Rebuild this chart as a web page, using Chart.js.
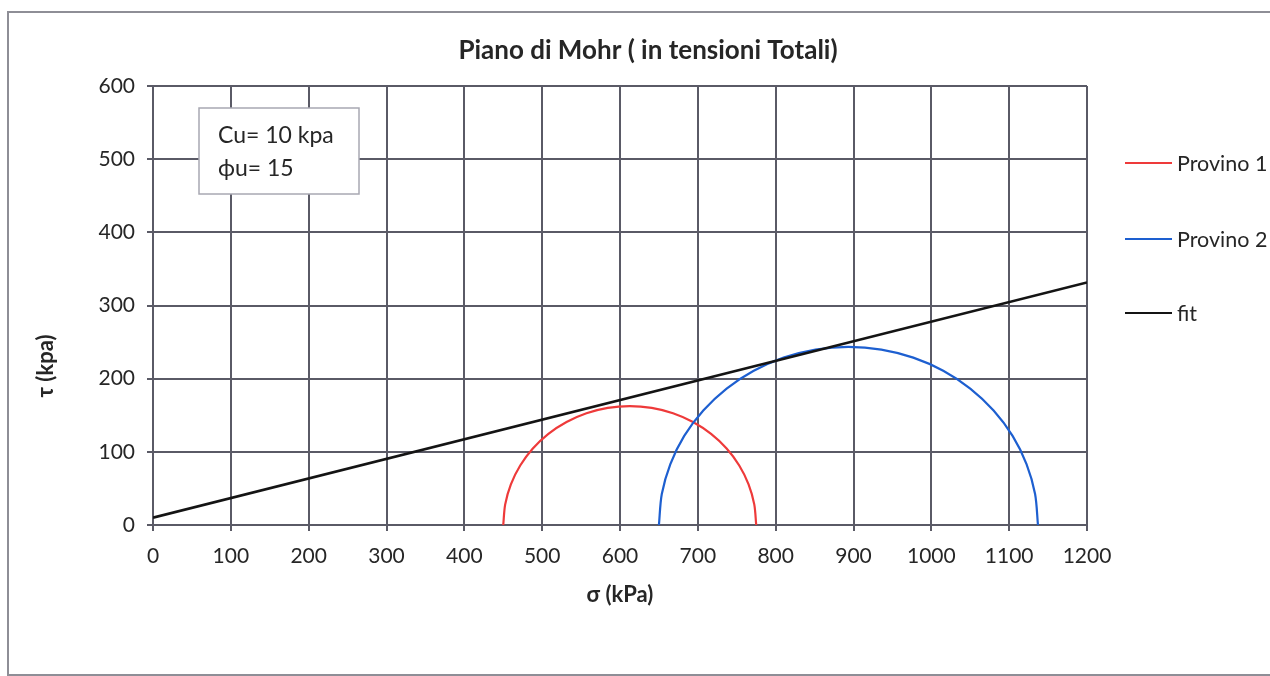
<!DOCTYPE html>
<html>
<head>
<meta charset="utf-8">
<title>Piano di Mohr</title>
<script src="https://cdn.jsdelivr.net/npm/chart.js@4/dist/chart.umd.min.js"></script>
<style>
  html, body { margin: 0; padding: 0; background: #ffffff; overflow: hidden; }
  #frame {
    position: absolute; left: 7px; top: 11px; width: 1300px; height: 661px;
    border: 2px solid #8e8e96; background: #ffffff;
  }
  #wrap { position: absolute; left: 0; top: 0; width: 1270px; height: 676px; }
</style>
</head>
<body>
<div id="frame"></div>
<div id="wrap"><canvas id="chart" width="1270" height="676"></canvas></div>
<script>
// Axis ticks
const sigmaTicks = [0, 100, 200, 300, 400, 500, 600, 700, 800, 900, 1000, 1100, 1200];
const tauTicks = [0, 100, 200, 300, 400, 500, 600];

// Provino 1 – Mohr half-circle (σ, τ in kPa)
const p1Sigma = [450.0, 452.5, 459.8, 471.8, 488.0, 508.0, 531.3, 556.9, 584.3, 612.5,
                 640.7, 668.1, 693.8, 717.0, 737.0, 753.2, 765.2, 772.5, 775.0];
const p1Tau   = [0, 28.2, 55.6, 81.3, 104.5, 124.5, 140.7, 152.7, 160.0, 162.5,
                 160.0, 152.7, 140.7, 124.5, 104.5, 81.3, 55.6, 28.2, 0];

// Provino 2 – Mohr half-circle (σ, τ in kPa)
const p2Sigma = [650.0, 653.7, 664.7, 682.5, 707.0, 737.0, 771.8, 810.2, 851.2, 893.5,
                 935.8, 976.8, 1015.3, 1050.0, 1080.0, 1104.4, 1122.3, 1133.3, 1137.0];
const p2Tau   = [0, 42.3, 83.3, 121.8, 156.5, 186.5, 210.9, 228.8, 239.8, 243.5,
                 239.8, 228.8, 210.9, 186.5, 156.5, 121.8, 83.3, 42.3, 0];

// Failure envelope (Cu = 10 kPa, φu = 15°)
const fitSigma = [0, 1200];
const fitTau   = [10, 331.5];

const seriesNames = ['Provino 1', 'Provino 2', 'fit'];
const boxLines = ['Cu= 10 kpa', '\u03D5u= 15'];

const FONT = 'Lato, "Open Sans", "Liberation Sans", sans-serif';
const GRID = '#5a5a66';
const TEXT = '#262626';

const toPoints = (xs, ys) => xs.map((x, i) => ({ x: x, y: ys[i] }));

// Title, axis titles, legend and the parameter box
const decorations = {
  id: 'decorations',
  afterDraw(chart) {
    const ctx = chart.ctx;
    const area = chart.chartArea;
    ctx.save();
    ctx.fillStyle = TEXT;

    // chart title
    ctx.font = 'bold 26px ' + FONT;
    ctx.textAlign = 'center';
    ctx.textBaseline = 'middle';
    ctx.fillText('Piano di Mohr ( in tensioni Totali)', 648, 51);

    // axis titles
    ctx.font = 'bold 22px ' + FONT;
    ctx.fillText('\u03C3 (kPa)', (area.left + area.right) / 2, 595);
    ctx.save();
    ctx.translate(46, 366);
    ctx.rotate(-Math.PI / 2);
    ctx.fillText('\u03C4 (kpa)', 0, 0);
    ctx.restore();

    // legend
    const legendY = [163, 239, 313];
    ctx.font = '21.5px ' + FONT;
    ctx.textAlign = 'left';
    chart.data.datasets.forEach((ds, i) => {
      ctx.strokeStyle = ds.borderColor;
      ctx.lineWidth = 2.2;
      ctx.beginPath();
      ctx.moveTo(1125, legendY[i]);
      ctx.lineTo(1172, legendY[i]);
      ctx.stroke();
      ctx.fillStyle = TEXT;
      ctx.fillText(ds.label, 1177, legendY[i] + 1);
    });

    // parameter box
    ctx.fillStyle = '#ffffff';
    ctx.fillRect(199, 108, 160, 86);
    ctx.strokeStyle = '#a8a8b2';
    ctx.lineWidth = 1.5;
    ctx.strokeRect(199, 108, 160, 86);
    ctx.fillStyle = TEXT;
    ctx.font = '23px ' + FONT;
    ctx.textBaseline = 'middle';
    ctx.fillText(boxLines[0], 218, 136);
    ctx.fillText(boxLines[1], 218, 169);
    ctx.restore();
  }
};

new Chart(document.getElementById('chart'), {
  type: 'scatter',
  data: {
    datasets: [
      { label: seriesNames[0], data: toPoints(p1Sigma, p1Tau), borderColor: '#ee3a3a',
        borderWidth: 2.2, showLine: true, pointRadius: 0, tension: 0.3, order: 3 },
      { label: seriesNames[1], data: toPoints(p2Sigma, p2Tau), borderColor: '#1d5fd0',
        borderWidth: 2.2, showLine: true, pointRadius: 0, tension: 0.3, order: 2 },
      { label: seriesNames[2], data: toPoints(fitSigma, fitTau), borderColor: '#141414',
        borderWidth: 2.6, showLine: true, pointRadius: 0, tension: 0, order: 1 }
    ]
  },
  options: {
    responsive: false,
    animation: false,
    events: [],
    layout: { padding: { top: 86, right: 183, bottom: 0, left: 0 } },
    plugins: {
      legend: { display: false },
      title: { display: false },
      tooltip: { enabled: false }
    },
    scales: {
      x: {
        type: 'linear',
        min: sigmaTicks[0],
        max: sigmaTicks[sigmaTicks.length - 1],
        afterBuildTicks(scale) { scale.ticks = sigmaTicks.map(v => ({ value: v })); },
        afterFit(scale) { scale.height = 151; },
        grid: { color: GRID, lineWidth: 2, drawTicks: true, tickLength: 6, tickColor: GRID },
        border: { color: GRID, width: 2 },
        ticks: { color: TEXT, font: { family: FONT, size: 21 }, padding: 13, maxRotation: 0,
                 callback: v => String(v) }
      },
      y: {
        type: 'linear',
        min: tauTicks[0],
        max: tauTicks[tauTicks.length - 1],
        afterBuildTicks(scale) { scale.ticks = tauTicks.map(v => ({ value: v })); },
        afterFit(scale) { scale.width = 153; },
        grid: { color: GRID, lineWidth: 2, drawTicks: true, tickLength: 6, tickColor: GRID },
        border: { color: GRID, width: 2 },
        ticks: { color: TEXT, font: { family: FONT, size: 21 }, padding: 12,
                 callback: v => String(v) }
      }
    }
  },
  plugins: [decorations]
});
</script>
</body>
</html>
